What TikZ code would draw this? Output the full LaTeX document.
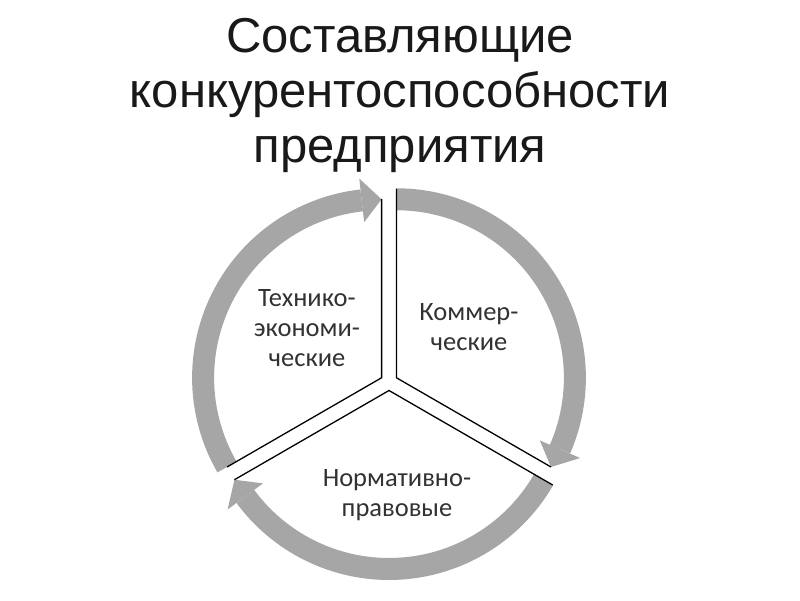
\documentclass[tikz,border=0pt]{standalone}
\usepackage{fontspec}
\setmainfont{Liberation Sans}
\newfontfamily\lblfont{Carlito}
\definecolor{bandgray}{RGB}{166,166,166}
\definecolor{lbltext}{RGB}{50,50,50}
\tikzset{
  band/.style={draw=bandgray, line width=22pt},
  headfill/.style={fill=bandgray, draw=none},
  edgeline/.style={draw=black, line width=1.3pt},
  titletext/.style={font=\fontsize{49}{55}\selectfont, text=black!90, anchor=base, inner sep=0pt},
  lbl/.style={font=\lblfont\fontsize{26.5}{30}\selectfont, text=lbltext, align=center, inner sep=0pt}
}
\begin{document}
\begin{tikzpicture}[x=1pt,y=1pt]
\useasboundingbox (0,0) rectangle (800,600);
% title
\node[titletext] (t1) at (400,547) {Составляющие};
\node[titletext] (t2) at (400,492) {конкурентоспособности};
\node[titletext] (t3) at (400,437) {предприятия};
% sector origins
\coordinate (O1) at (396.4,222.25);
\coordinate (O2) at (389,209.5);
\coordinate (O3) at (381.6,222.25);
% right sector: 90 -> -30
\begin{scope}[shift={(O1)}]
  \draw[band] (90:178.5pt) arc[start angle=90, end angle=-23.6, radius=178.5pt];
  \path[headfill] (-23.6:156.5pt) -- (-30:178.5pt) -- (-23.6:200.5pt) -- cycle;
  \coordinate (r1) at (90:189pt);
  \coordinate (r2) at (-30:178.5pt);
\end{scope}
% bottom sector: -30 -> -150
\begin{scope}[shift={(O2)}]
  \draw[band] (-30:178.5pt) arc[start angle=-30, end angle=-143.6, radius=178.5pt];
  \path[headfill] (-143.6:156.5pt) -- (-150:178.5pt) -- (-143.6:200.5pt) -- cycle;
  \coordinate (b1) at (-30:189pt);
  \coordinate (b2) at (-150:178.5pt);
\end{scope}
% left sector: 210 -> 90
\begin{scope}[shift={(O3)}]
  \draw[band] (210:178.5pt) arc[start angle=210, end angle=96.4, radius=178.5pt];
  \path[headfill] (96.4:156.5pt) -- (90:178.5pt) -- (96.4:200.5pt) -- cycle;
  \coordinate (l1) at (210:178.5pt);
  \coordinate (l2) at (90:178.5pt);
\end{scope}
% sector edges
\draw[edgeline] (r1) -- (O1) -- (r2);
\draw[edgeline] (b1) -- (O2) -- (b2);
\draw[edgeline] (l1) -- (O3) -- (l2);
% labels
\node[lbl] (lt) at (307,272) {Технико-\\экономи-\\ческие};
\node[lbl] (lc) at (469,273) {Коммер-\\ческие};
\node[lbl] (ln) at (397,105) {Нормативно-\\правовые};
\end{tikzpicture}
\end{document}
